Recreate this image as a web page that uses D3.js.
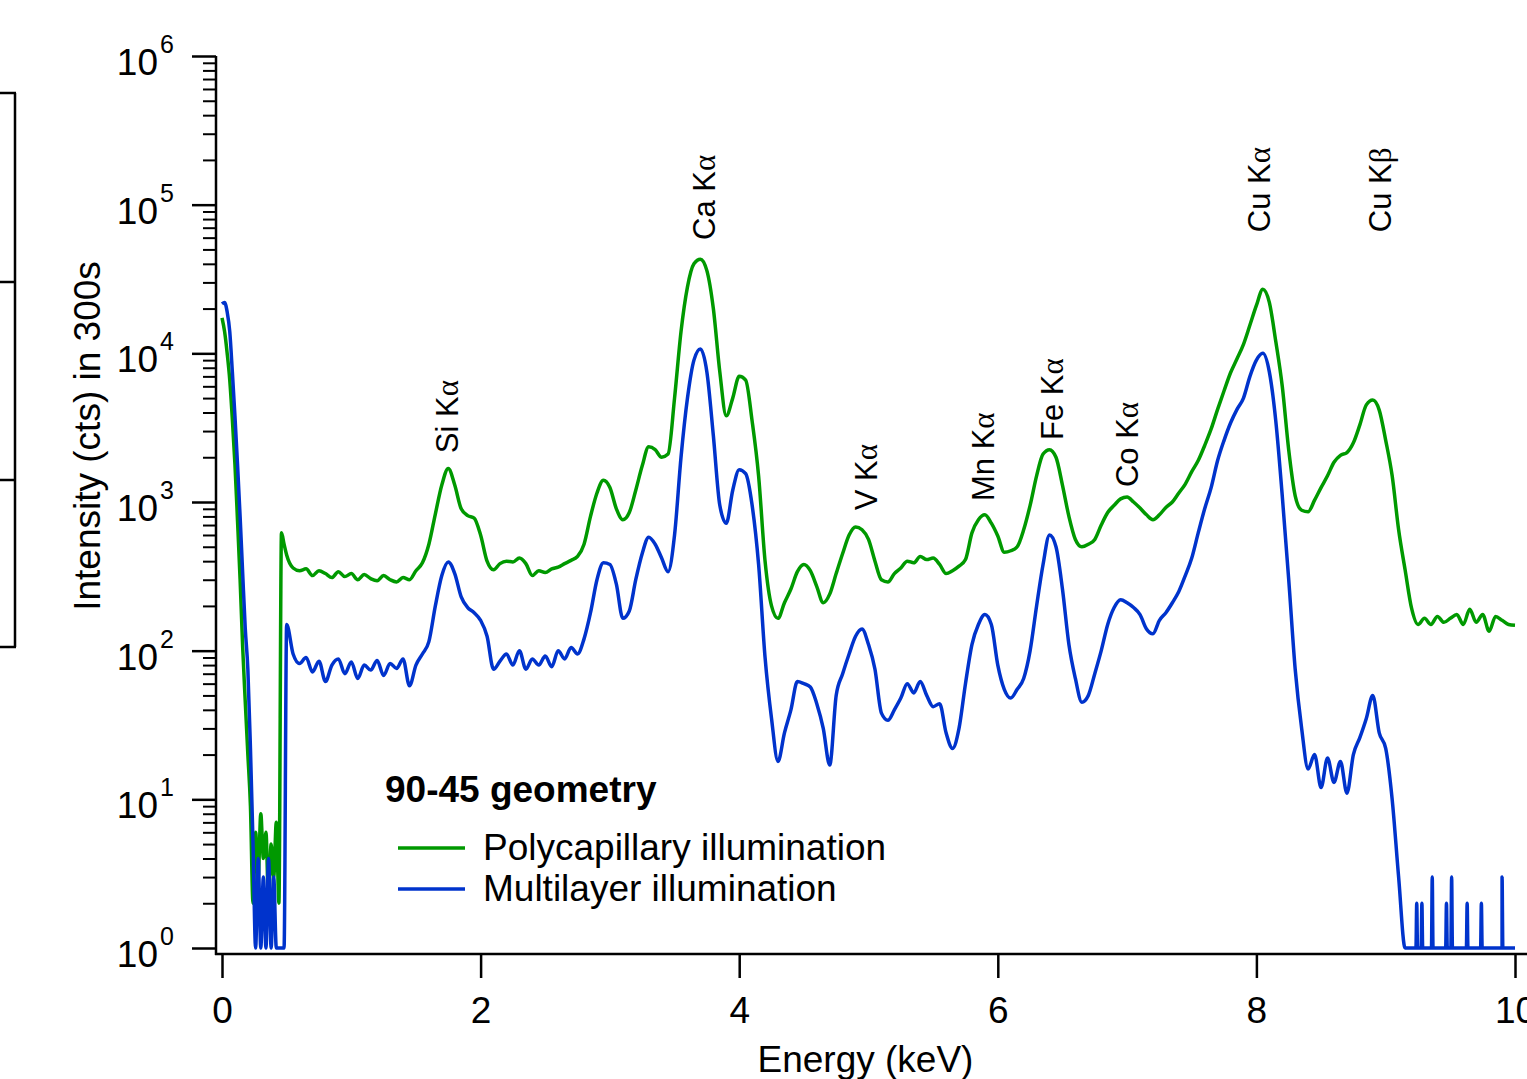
<!DOCTYPE html>
<html>
<head>
<meta charset="utf-8">
<script src="https://cdn.jsdelivr.net/npm/d3@7/dist/d3.min.js"></script>
<style>
  body { margin: 0; background: #fff; }
  text { font-family: 'Liberation Sans', Arial, sans-serif; fill: #000; }
</style>
</head>
<body>
<div id="chart"></div>
<script>
// Channel energies (keV)
const energy = [
  0, 0.02, 0.04, 0.06, 0.08, 0.1, 0.12, 0.14, 0.16, 0.18, 0.2, 0.22, 0.24,
  0.26, 0.28, 0.3, 0.32, 0.34, 0.36, 0.38, 0.4, 0.42, 0.44, 0.46, 0.48,
  0.5, 0.55, 0.6, 0.65, 0.7, 0.75, 0.8, 0.85, 0.9, 0.95,
  1, 1.05, 1.1, 1.15, 1.2, 1.25, 1.3, 1.35, 1.4, 1.45, 1.5, 1.55, 1.6, 1.65, 1.7, 1.75, 1.8, 1.85, 1.9, 1.95,
  2, 2.05, 2.1, 2.15, 2.2, 2.25, 2.3, 2.35, 2.4, 2.45, 2.5, 2.55, 2.6, 2.65, 2.7, 2.75, 2.8, 2.85, 2.9, 2.95,
  3, 3.05, 3.1, 3.15, 3.2, 3.25, 3.3, 3.35, 3.4, 3.45, 3.5, 3.55, 3.6, 3.65, 3.7, 3.75, 3.8, 3.85, 3.9, 3.95,
  4, 4.05, 4.1, 4.15, 4.2, 4.25, 4.3, 4.35, 4.4, 4.45, 4.5, 4.55, 4.6, 4.65, 4.7, 4.75, 4.8, 4.85, 4.9, 4.95,
  5, 5.05, 5.1, 5.15, 5.2, 5.25, 5.3, 5.35, 5.4, 5.45, 5.5, 5.55, 5.6, 5.65, 5.7, 5.75, 5.8, 5.85, 5.9, 5.95,
  6, 6.05, 6.1, 6.15, 6.2, 6.25, 6.3, 6.35, 6.4, 6.45, 6.5, 6.55, 6.6, 6.65, 6.7, 6.75, 6.8, 6.85, 6.9, 6.95,
  7, 7.05, 7.1, 7.15, 7.2, 7.25, 7.3, 7.35, 7.4, 7.45, 7.5, 7.55, 7.6, 7.65, 7.7, 7.75, 7.8, 7.85, 7.9, 7.95,
  8, 8.05, 8.1, 8.15, 8.2, 8.25, 8.3, 8.35, 8.4, 8.45, 8.5, 8.55, 8.6, 8.65, 8.7, 8.75, 8.8, 8.85, 8.9, 8.95,
  9, 9.05, 9.1, 9.15, 9.2, 9.25, 9.3, 9.35, 9.4, 9.45, 9.5, 9.55, 9.6, 9.65, 9.7, 9.75, 9.8, 9.85, 9.9, 9.95,
  10
]

// Counts, polycapillary illumination
const polycapillary = [
  17300, 14000, 10000, 6600, 3600, 1800, 750, 300, 105, 45, 20, 9, 2,
  6, 3, 8, 4, 6, 2, 5, 3, 7, 2, 620, 520,
  440, 360, 345, 355, 320, 345, 330, 310, 340, 315,
  330, 300, 325, 305, 295, 320, 300, 290, 310, 300, 345, 390, 520, 830, 1300, 1680, 1300, 900, 810, 780,
  600, 400, 350, 385, 400, 395, 420, 385, 320, 345, 335, 355, 365, 385, 405, 430, 520, 800, 1150, 1400,
  1250, 900, 760, 850, 1200, 1750, 2350, 2250, 2000, 2100, 5000, 14000, 28000, 40000, 43000, 36000, 20000, 7500, 3800, 5000,
  7000, 6600, 3500, 1500, 400, 200, 165, 210, 260, 340, 380, 345, 270, 210, 240, 330, 450, 600, 680, 650,
  560, 400, 300, 290, 330, 360, 400, 390, 430, 410, 420, 380, 330, 345, 370, 410, 620, 760, 820, 720,
  590, 460, 470, 500, 650, 950, 1500, 2100, 2250, 2000, 1300, 800, 560, 500, 520, 560, 700, 850, 950, 1050,
  1080, 1000, 910, 820, 760, 820, 920, 1000, 1150, 1320, 1600, 1900, 2400, 3100, 4200, 5600, 7400, 9200, 11500, 15500,
  21000, 27000, 22000, 12000, 6000, 2235, 1100, 880, 860, 1030, 1250, 1500, 1850, 2060, 2150, 2500, 3300, 4500, 4850, 4150,
  2600, 1500, 650, 350, 193, 150, 165, 150, 170, 155, 165, 175, 150, 190, 155, 175, 135, 170, 160, 150,
  148
]

// Counts, multilayer illumination
const multilayer = [
  21500, 22000, 19000, 14000, 7500, 3800, 1800, 800, 330, 140, 75, 22, 5,
  1, 4, 1, 3, 1, 4, 1, 3, 0, 0, 0, 1,
  150, 95, 82, 90, 72, 85, 62, 80, 88, 70,
  84, 65, 80, 74, 86, 68, 82, 76, 88, 58, 80, 95, 115, 200, 320, 395, 330, 230, 195, 180,
  160, 125, 75, 85, 95, 80, 100, 75, 88, 80, 92, 78, 100, 88, 105, 95, 120, 180, 300, 390,
  380, 280, 165, 185, 300, 450, 580, 520, 420, 340, 600, 2000, 5000, 9000, 10700, 7500, 2800, 950, 720, 1200,
  1650, 1550, 950, 380, 90, 35, 18, 28, 40, 62, 60, 57, 44, 30, 17, 50, 70, 95, 125, 140,
  110, 75, 38, 34, 40, 48, 60, 52, 62, 50, 42, 44, 28, 22, 30, 60, 110, 150, 175, 150,
  80, 55, 48, 55, 65, 100, 200, 380, 600, 500, 260, 110, 65, 45, 50, 70, 100, 150, 195, 220,
  210, 195, 175, 140, 130, 160, 180, 210, 250, 320, 420, 620, 900, 1250, 1900, 2600, 3400, 4200, 5000, 7000,
  9000, 10000, 7500, 3500, 1100, 300, 75, 30, 16, 20, 12, 19, 13, 18, 11, 20, 26, 35, 50, 28,
  22, 10, 3, 0, 0, 0, 0, 0, 0, 0, 0, 0, 0, 0, 0, 0, 0, 0, 0, 0,
  0
]

// Single-channel counts in the multilayer tail
const multilayerSpikeEnergy = [9.24, 9.28, 9.36, 9.47, 9.51, 9.63, 9.74, 9.9]
const multilayerSpikeCounts = [2, 2, 3, 2, 3, 2, 2, 3]

// Axis ticks
const xTicks = [0, 2, 4, 6, 8, 10]
const yExponents = [0, 1, 2, 3, 4, 5, 6]

// Peak labels
const peakElement = ['Si', 'Ca', 'V', 'Mn', 'Fe', 'Co', 'Cu', 'Cu']
const peakLine = ['α', 'α', 'α', 'α', 'α', 'α', 'α', 'β']
const peakEnergy = [1.73, 3.72, 4.97, 5.88, 6.41, 6.99, 8.01, 8.95]
const peakLabelLevel = [2130, 57900, 880, 1015, 2610, 1260, 65300, 65300]

const seriesNames = ['Polycapillary illumination', 'Multilayer illumination']
const seriesColors = ['#009900', '#0033cc']

// Create your margins and height/width
const margin = { top: 56, left: 222, right: 12, bottom: 131 }
const width = 1527 - margin.left - margin.right
const height = 1079 - margin.top - margin.bottom

const root = d3
  .select('#chart')
  .append('svg')
  .attr('width', 1527)
  .attr('height', 1079)

const svg = root
  .append('g')
  .attr('transform', 'translate(' + margin.left + ',' + margin.top + ')')

// Create your scales
const xPositionScale = d3.scaleLinear().domain([0, 10]).range([0, width])
const yPositionScale = d3.scaleLog().domain([1, 1e6]).range([height, 0])

const line = d3
  .line()
  .x(d => xPositionScale(d[0]))
  .y(d => yPositionScale(Math.max(d[1], 1)))
  .curve(d3.curveMonotoneX)

const polyPoints = energy.map((e, i) => [e, polycapillary[i]])
const multiPoints = energy.map((e, i) => [e, multilayer[i]])
multilayerSpikeEnergy.forEach((e, i) => {
  multiPoints.push([e - 0.006, 0], [e, multilayerSpikeCounts[i]], [e + 0.006, 0])
})
multiPoints.sort((a, b) => a[0] - b[0])

// Draw the spectra
svg
  .selectAll('.spectrum')
  .data([polyPoints, multiPoints])
  .enter()
  .append('path')
  .attr('class', 'spectrum')
  .attr('d', d => line(d))
  .attr('fill', 'none')
  .attr('stroke', (d, i) => seriesColors[i])
  .attr('stroke-width', 3.5)
  .attr('stroke-linejoin', 'round')

// Axis lines (offset from the plot area)
svg
  .append('line')
  .attr('x1', -7)
  .attr('x2', width + 14)
  .attr('y1', height + 6)
  .attr('y2', height + 6)
  .attr('stroke', '#000')
  .attr('stroke-width', 2.5)

svg
  .append('line')
  .attr('x1', -6)
  .attr('x2', -6)
  .attr('y1', 0)
  .attr('y2', height + 7)
  .attr('stroke', '#000')
  .attr('stroke-width', 2.5)

// Add your axes
const xAxis = d3
  .axisBottom(xPositionScale)
  .tickValues(xTicks)
  .tickSize(24)
  .tickSizeOuter(0)
  .tickPadding(19)
  .tickFormat(d3.format('d'))
const xg = svg
  .append('g')
  .attr('class', 'axis x-axis')
  .attr('transform', 'translate(0,' + (height + 6) + ')')
  .call(xAxis)
xg.select('.domain').remove()
xg.selectAll('line').attr('stroke-width', 2.5)
xg.selectAll('text')
  .attr('font-size', 37)
  .attr('font-family', "'Liberation Sans', Arial, sans-serif")

const yMinor = yPositionScale.ticks().filter(v => !yExponents.includes(Math.round(Math.log10(v) * 1e6) / 1e6))
const yMinorAxis = d3
  .axisLeft(yPositionScale)
  .tickValues(yMinor)
  .tickSize(13)
  .tickSizeOuter(0)
  .tickFormat('')
const ymg = svg
  .append('g')
  .attr('class', 'axis y-axis-minor')
  .attr('transform', 'translate(-6,0)')
  .call(yMinorAxis)
ymg.select('.domain').remove()
ymg.selectAll('line').attr('stroke-width', 2)

const yMajorAxis = d3
  .axisLeft(yPositionScale)
  .tickValues(yExponents.map(e => Math.pow(10, e)))
  .tickSize(24)
  .tickSizeOuter(0)
  .tickFormat('')
const yg = svg
  .append('g')
  .attr('class', 'axis y-axis')
  .attr('transform', 'translate(-6,0)')
  .call(yMajorAxis)
yg.select('.domain').remove()
yg.selectAll('line').attr('stroke-width', 2.5)

// Power-of-ten labels
const yLabels = svg
  .selectAll('.y-label')
  .data(yExponents)
  .enter()
  .append('g')
  .attr('class', 'y-label')
  .attr('transform', d => 'translate(0,' + yPositionScale(Math.pow(10, d)) + ')')
yLabels
  .append('text')
  .attr('x', -64)
  .attr('y', 19)
  .attr('text-anchor', 'end')
  .attr('font-size', 37)
  .text('10')
yLabels
  .append('text')
  .attr('x', -62)
  .attr('y', -3)
  .attr('font-size', 25)
  .text(d => d)

// Axis titles
svg
  .append('text')
  .attr('x', xPositionScale(5) - 3)
  .attr('y', 1072 - margin.top)
  .attr('text-anchor', 'middle')
  .attr('font-size', 37)
  .text('Energy (keV)')

svg
  .append('text')
  .attr('transform', 'translate(' + (100 - margin.left) + ',' + (436 - margin.top) + ') rotate(-90)')
  .attr('text-anchor', 'middle')
  .attr('font-size', 37)
  .text('Intensity (cts) in 300s')

// Peak labels
const peaks = svg
  .selectAll('.peak')
  .data(peakElement)
  .enter()
  .append('text')
  .attr('class', 'peak')
  .attr('font-size', 31)
  .attr('transform', (d, i) =>
    'translate(' + (xPositionScale(peakEnergy[i]) + 12) + ',' + yPositionScale(peakLabelLevel[i]) + ') rotate(-90)')
peaks.append('tspan').text(d => d + ' K')
peaks
  .append('tspan')
  .attr('font-family', "'Liberation Serif', 'DejaVu Serif', serif")
  .text((d, i) => peakLine[i])

// Legend
root
  .append('text')
  .attr('x', 385)
  .attr('y', 802)
  .attr('font-size', 37)
  .attr('font-weight', 'bold')
  .text('90-45 geometry')

const legend = root
  .selectAll('.legend')
  .data(seriesNames)
  .enter()
  .append('g')
  .attr('class', 'legend')
  .attr('transform', (d, i) => 'translate(0,' + (848 + i * 41) + ')')
legend
  .append('line')
  .attr('x1', 398)
  .attr('x2', 465)
  .attr('stroke', (d, i) => seriesColors[i])
  .attr('stroke-width', 3.5)
legend
  .append('text')
  .attr('x', 483)
  .attr('y', 12)
  .attr('font-size', 37)
  .text(d => d)

// Frame of the neighbouring panel, cut by the left edge
const frameRows = [93, 282, 480, 647]
root
  .append('line')
  .attr('x1', 15)
  .attr('x2', 15)
  .attr('y1', frameRows[0])
  .attr('y2', frameRows[frameRows.length - 1])
  .attr('stroke', '#000')
  .attr('stroke-width', 2.5)
root
  .selectAll('.frame-row')
  .data(frameRows)
  .enter()
  .append('line')
  .attr('class', 'frame-row')
  .attr('x1', 0)
  .attr('x2', 16)
  .attr('y1', d => d)
  .attr('y2', d => d)
  .attr('stroke', '#000')
  .attr('stroke-width', 2.5)
</script>
</body>
</html>
